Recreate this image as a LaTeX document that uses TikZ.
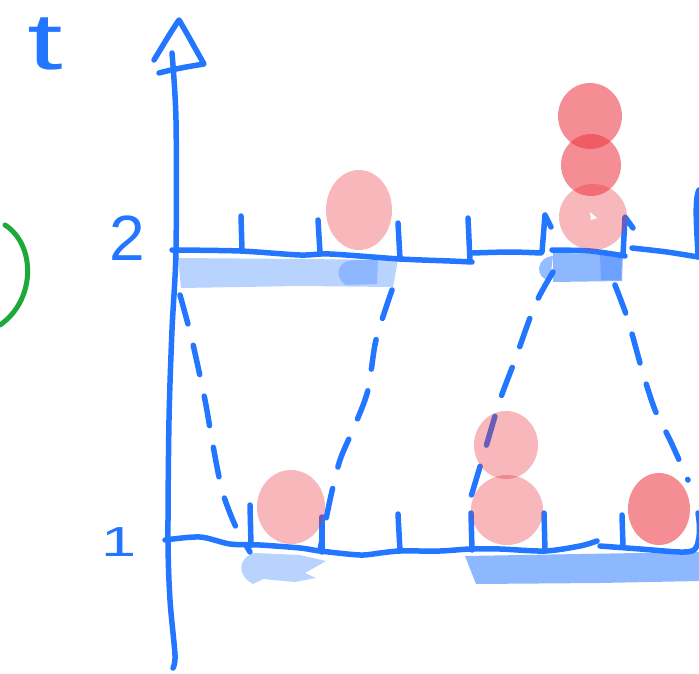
\documentclass[tikz,border=0pt]{standalone}
\usepackage{fontspec}
\setmainfont{Liberation Sans}
\usepackage{graphicx}
\definecolor{penc}{RGB}{35,118,255}
\definecolor{lightb}{RGB}{185,211,255}
\definecolor{midb}{RGB}{141,184,255}
\definecolor{darkb}{RGB}{110,160,255}
\definecolor{redc}{RGB}{235,50,60}
\definecolor{greenc}{RGB}{29,168,58}
\begin{document}
\begin{tikzpicture}[x=1pt,y=-1pt,
  bluepen/.style={draw=penc, line width=5.5pt, line cap=round, line join=round},
  dashpen/.style={bluepen, dash pattern=on 30pt off 22pt},
  pinkdot/.style={fill=redc, opacity=0.35},
  reddot/.style={fill=redc, opacity=0.55},
  lbl/.style={text=penc, inner sep=0pt}]
\useasboundingbox (0,0) rectangle (699,674);

% ---- blue fills (under the lines)
\fill[lightb] (178,258) -- (300,259) -- (398,260) -- (393,287) -- (300,286) -- (181,288) -- cycle;
\fill[midb] (378,260) -- (377,284) -- (346,285) .. controls (336,280) and (334,263) .. (352,260) -- cycle;
\fill[midb!80!lightb] (553,256) .. controls (536,257) and (534,278) .. (550,281) -- cycle;
\fill[midb] (553,253) -- (623,254) -- (622,281) -- (553,282) -- cycle;
\fill[darkb] (600,255) -- (622,255) -- (621,280) -- (601,280) -- cycle;

\fill[lightb] (255,553) -- (300,555) -- (326,561) -- (305,573) -- (316,578) -- (295,582) -- (263,579) -- (253,584) .. controls (236,575) and (238,557) .. (255,553) -- cycle;
\fill[midb] (465,556) -- (580,554) -- (699,552) -- (699,581) -- (600,583) -- (476,584) -- cycle;

% ---- axis
\coordinate (axtop) at (172,53);
\coordinate (axbot) at (173,668);
\draw[bluepen] plot[smooth] coordinates {(axtop) (176,120) (176,250) (172,330) (169,420) (168,540) (170,600) (175,655) (axbot)};
\draw[bluepen] (154,60) .. controls (165,42) and (172,30) .. (179,20) .. controls (188,35) and (196,50) .. (204,64) .. controls (185,67) and (170,70) .. (159,73);

% ---- level 2 line and ticks
\draw[bluepen] plot[smooth] coordinates {(172,250) (240,251) (300,255) (330,254) (400,259) (450,261) (472,262)};
\draw[bluepen] plot[smooth] coordinates {(473,253) (510,252) (541,253)};
\draw[bluepen] plot[smooth] coordinates {(552,250) (590,251) (625,256)};
\draw[bluepen] plot[smooth] coordinates {(632,248) (667,252) (698,257)};
\draw[bluepen] (241,216) -- (242,250);
\draw[bluepen] (318,220) -- (320,253);
\draw[bluepen] (398,223) -- (400,259);
\draw[bluepen] (468,218) -- (470,261);
\draw[bluepen] (551,227) -- (545,215) -- (542,252);
\draw[bluepen] (633,228) -- (625,217) -- (623,255);
\draw[bluepen] (699,190) .. controls (694,200) and (697,230) .. (698,257);

% ---- level 1 line and ticks
\draw[bluepen] plot[smooth] coordinates {(165,540) (200,537) (230,544) (260,545) (300,548) (320,551) (360,555) (380,553) (400,551) (440,551) (470,549) (500,549) (545,551) (580,546) (597,541)};
\draw[bluepen] plot[smooth] coordinates {(600,546) (640,549) (680,552) (694,550) (699,540)};
\draw[bluepen] (250,505) -- (251,545);
\draw[bluepen] (322,517) -- (322,552);
\draw[bluepen] (398,514) -- (400,551);
\draw[bluepen] (471,513) -- (472,550);
\draw[bluepen] (544,513) -- (545,551);
\draw[bluepen] (622,515) -- (623,546);
\draw[bluepen] (698,513) .. controls (700,525) and (700,535) .. (698,542);

% ---- dashed links
\draw[dashpen] plot[smooth] coordinates {(180,295) (192,340) (205,400) (212,440) (222,490) (235,525) (250,552)};
\draw[dashpen] plot[smooth] coordinates {(392,290) (376,340) (368,390) (355,425) (340,460) (330,500) (320,550)};
\draw[dashpen] plot[smooth] coordinates {(553,272) (535,305) (515,360) (500,400) (485,450) (470,500)};
\draw[dashpen] plot[smooth] coordinates {(615,285) (628,320) (642,370) (655,410) (670,440) (688,480)};

% ---- dots, level 2
\fill[pinkdot] (359,210) ellipse [x radius=33, y radius=40];
\fill[reddot] (590,116) ellipse [x radius=32, y radius=33];
\fill[reddot] (591,165) ellipse [x radius=30, y radius=31];
\fill[pinkdot] (593,217) ellipse [x radius=34, y radius=33];
\fill[white] (590,212) -- (597,218) -- (591,220) -- cycle;

% ---- dots, level 1
\fill[pinkdot] (291,507) ellipse [x radius=34, y radius=37];
\fill[pinkdot] (506,445) ellipse [x radius=32, y radius=34];
\fill[pinkdot] (507,510) ellipse [x radius=36, y radius=35];
\fill[reddot] (659,509) ellipse [x radius=31, y radius=36];

% ---- green arc
\draw[draw=greenc, line width=5pt, line cap=round] (5,225) .. controls (36,245) and (36,300) .. (0,325);

% ---- labels
\node[lbl, font=\fontsize{80}{80}\selectfont] (tlab) at (45,44) {\scalebox{1.6}[1]{t}};
\node[lbl, font=\fontsize{64}{64}\selectfont] (lab2) at (127,238) {2};
\node[lbl, font=\fontsize{42}{42}\selectfont] (lab1) at (119,542) {\scalebox{1.5}[1]{1}};
\end{tikzpicture}
\end{document}
